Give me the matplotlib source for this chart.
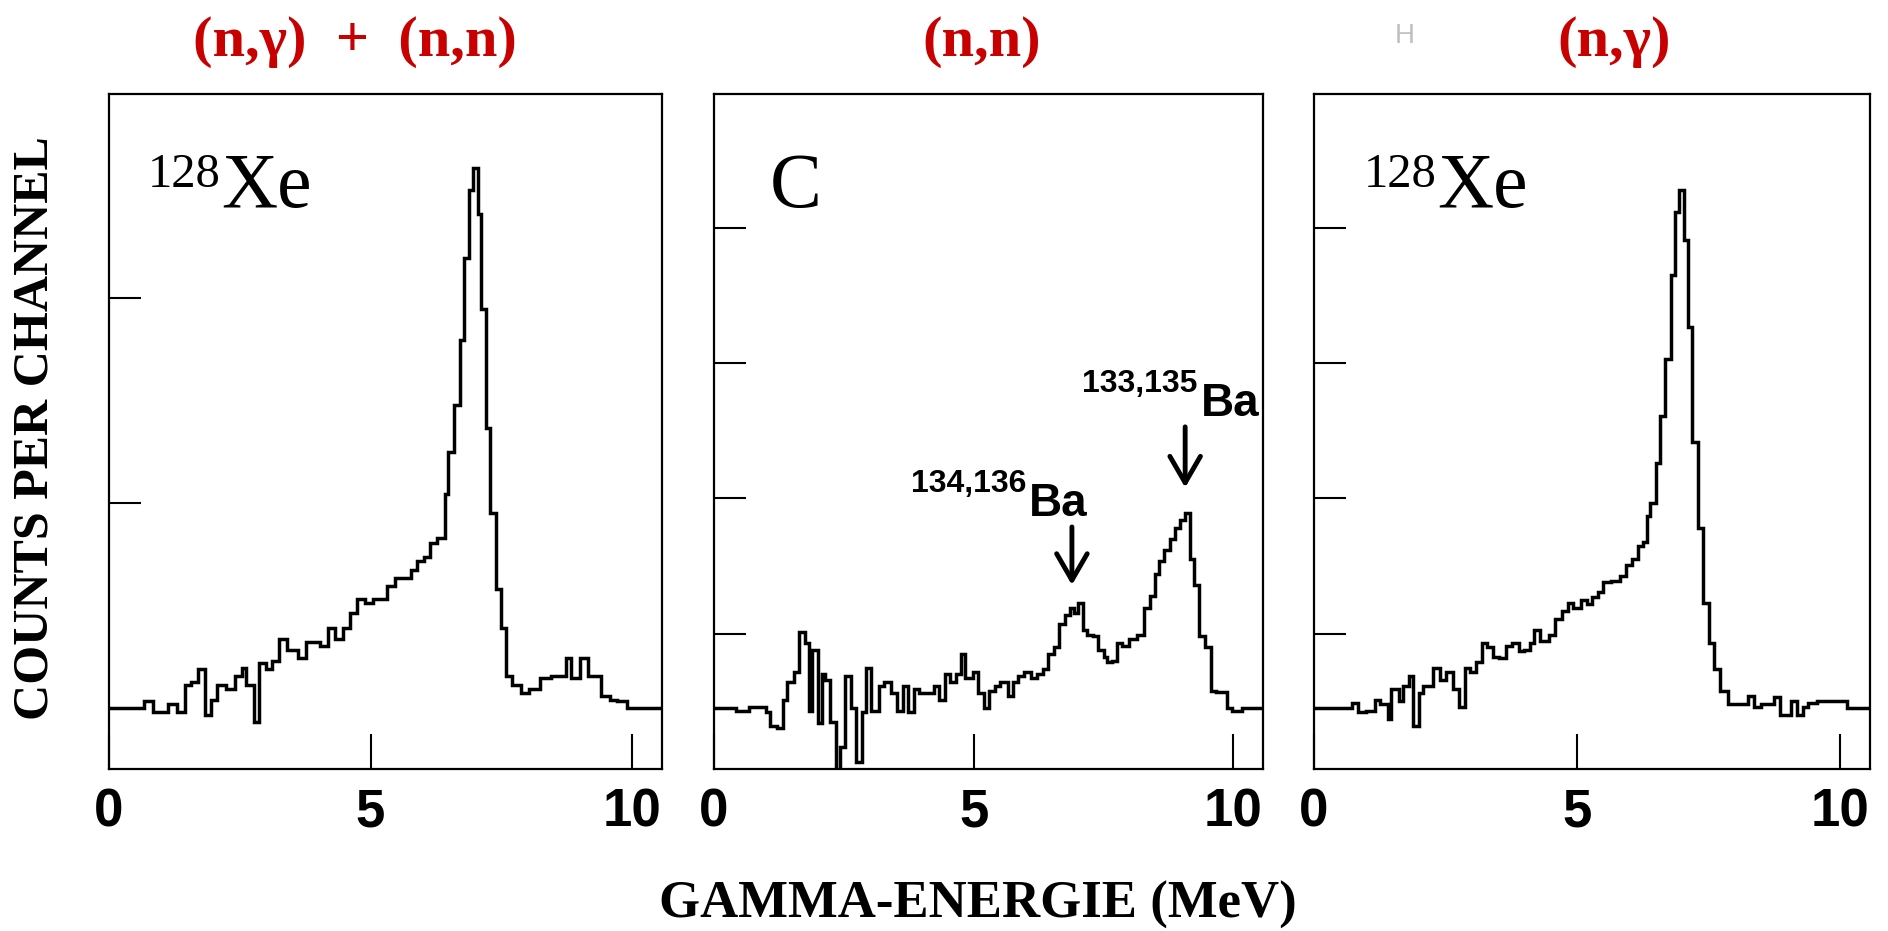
import matplotlib
matplotlib.use("Agg")
import matplotlib.pyplot as plt

# gamma spectra, energy bin edges (MeV) and counts per channel (arb. units)
edges_mix = [0, 0.67, 0.85, 1.13, 1.31, 1.45, 1.56, 1.70, 1.84, 1.95,
             2.06, 2.23, 2.41, 2.54, 2.62, 2.77, 2.87, 3.01, 3.12, 3.26,
             3.40, 3.62, 3.76, 4.04, 4.19, 4.33, 4.47, 4.61, 4.75, 4.90,
             5.04, 5.32, 5.46, 5.61, 5.78, 5.89, 6.03, 6.14, 6.28, 6.42,
             6.49, 6.60, 6.71, 6.78, 6.88, 6.95, 7.05, 7.12, 7.20, 7.29,
             7.39, 7.49, 7.59, 7.70, 7.88, 8.02, 8.23, 8.45, 8.73, 8.84,
             9.01, 9.16, 9.40, 9.58, 9.72, 9.90, 10.15, 10.57]
counts_mix = [45, 50, 42, 48, 42, 62, 64, 74, 40, 51,
              62, 59, 69, 75, 62, 35, 78, 74, 80, 96,
              88, 82, 94, 91, 104, 96, 104, 115, 126, 123,
              126, 135, 141, 141, 147, 154, 157, 167, 171, 203,
              234, 269, 317, 378, 428, 444, 410, 340, 252, 189,
              133, 104, 69, 62, 56, 59, 67, 69, 82, 67,
              82, 69, 54, 51, 50, 45, 45]

edges_c = [0, 0.43, 0.68, 1.0, 1.07, 1.21, 1.32, 1.41, 1.53, 1.64,
           1.75, 1.82, 1.89, 2.0, 2.07, 2.14, 2.24, 2.35, 2.42, 2.53,
           2.63, 2.74, 2.85, 2.92, 3.02, 3.17, 3.27, 3.41, 3.52, 3.63,
           3.73, 3.84, 3.95, 4.23, 4.34, 4.44, 4.55, 4.66, 4.76, 4.84,
           4.98, 5.08, 5.19, 5.30, 5.40, 5.51, 5.65, 5.76, 5.86, 5.97,
           6.11, 6.22, 6.33, 6.43, 6.54, 6.65, 6.75, 6.86, 6.93, 7.0,
           7.11, 7.18, 7.29, 7.39, 7.50, 7.57, 7.67, 7.75, 7.85, 7.99,
           8.14, 8.28, 8.39, 8.49, 8.56, 8.67, 8.78, 8.88, 8.97, 9.06,
           9.17, 9.24, 9.34, 9.45, 9.56, 9.66, 9.87, 9.98, 10.16, 10.57]
counts_c = [45, 43, 46, 42, 32, 30, 51, 64, 72, 101,
            93, 43, 88, 34, 70, 66, 35, -25, 16, 69,
            45, 5, 42, 75, 43, 61, 64, 56, 43, 61,
            42, 59, 56, 61, 51, 70, 64, 70, 85, 67,
            72, 56, 45, 58, 61, 64, 54, 64, 69, 72,
            67, 70, 74, 85, 90, 107, 114, 119, 115, 123,
            103, 99, 98, 88, 83, 79, 80, 93, 91, 96,
            99, 119, 128, 144, 154, 162, 170, 178, 184, 189,
            155, 136, 98, 90, 58, 57, 45, 43, 45]

edges_ng = [0, 0.73, 0.83, 0.98, 1.15, 1.26, 1.40, 1.47, 1.62, 1.69,
            1.80, 1.88, 2.0, 2.08, 2.26, 2.40, 2.51, 2.65, 2.76, 2.87,
            2.97, 3.08, 3.19, 3.29, 3.40, 3.51, 3.65, 3.76, 3.90, 4.0,
            4.11, 4.18, 4.29, 4.47, 4.58, 4.72, 4.83, 4.93, 5.08, 5.18,
            5.29, 5.40, 5.50, 5.65, 5.82, 5.93, 6.04, 6.15, 6.25, 6.32,
            6.39, 6.50, 6.57, 6.68, 6.79, 6.86, 6.93, 7.04, 7.11, 7.18,
            7.29, 7.39, 7.50, 7.61, 7.71, 7.86, 8.25, 8.36, 8.50, 8.75,
            8.86, 9.07, 9.18, 9.29, 9.39, 9.57, 10.14, 10.57]
counts_ng = [45, 49, 42, 43, 51, 48, 37, 59, 50, 61,
             69, 32, 56, 61, 75, 66, 72, 59, 46, 75,
             72, 79, 93, 90, 83, 82, 91, 93, 87, 88,
             93, 103, 95, 99, 111, 117, 123, 119, 125, 122,
             127, 131, 138, 139, 143, 151, 155, 165, 168, 187,
             197, 226, 261, 303, 365, 412, 428, 391, 327, 242,
             178, 123, 93, 74, 58, 48, 54, 46, 48, 53,
             40, 50, 40, 46, 49, 50, 45]

titles = ["(n,\u03b3)  +  (n,n)", "(n,n)", "(n,\u03b3)"]
targets = ["Xe", "C", "Xe"]
masses = ["128", "", "128"]
yticks = [[197, 348], [100, 200, 300, 400], [100, 200, 300, 400]]

# Ba lines in the carbon spectrum: arrows (energy, tail, tip) and labels
ba_arrows = [(6.89, 181, 134), (9.07, 255, 206)]
ba_labels = [("134,136", 6.01, 6.07, 187), ("133,135", 9.31, 9.38, 261)]

red = "#c80000"
serif = "Liberation Serif"
sans = "Liberation Sans"

fig = plt.figure(figsize=(18.88, 9.31), dpi=100)
positions = [[0.0577, 0.174, 0.2929, 0.725],
             [0.3782, 0.174, 0.2908, 0.725],
             [0.696, 0.174, 0.2945, 0.725]]
title_x = [0.188, 0.520, 0.855]
mass_x = [0.070, 0, 0.090]
elem_x = [0.204, 0.102, 0.221]

spectra = [(edges_mix, counts_mix), (edges_c, counts_c), (edges_ng, counts_ng)]

for i, (edges, counts) in enumerate(spectra):
    ax = fig.add_axes(positions[i])
    ax.stairs(counts, edges, color="black", linewidth=2.5, baseline=None)
    ax.set_xlim(0, 10.57)
    ax.set_ylim(0, 499)
    ax.set_xticks([0, 5, 10])
    ax.set_xticklabels(["0", "5", "10"], fontfamily=sans,
                       fontweight="heavy", fontsize=38)
    ax.set_yticks(yticks[i])
    ax.set_yticklabels([])
    ax.tick_params(axis="x", direction="in", length=25, width=1.5, pad=13)
    ax.tick_params(axis="y", direction="in", length=23, width=1.5)
    for sp in ax.spines.values():
        sp.set_linewidth(1.6)

    # target label
    if masses[i]:
        ax.text(mass_x[i], 0.862, masses[i], transform=ax.transAxes,
                fontfamily=serif, fontsize=35, va="baseline", ha="left")
    ax.text(elem_x[i], 0.832, targets[i], transform=ax.transAxes,
            fontfamily=serif, fontsize=56, va="baseline", ha="left")

    fig.text(title_x[i], 0.955, titles[i], color=red, fontfamily=serif,
             fontweight="bold", fontsize=42, ha="center", va="center")

    if i == 1:
        for x, y0, y1 in ba_arrows:
            ax.annotate("", xy=(x, y1), xytext=(x, y0),
                        arrowprops=dict(arrowstyle="->,head_length=1.9,head_width=1.1",
                                        lw=3.5, color="black"))
        for mass, xm, xb, y in ba_labels:
            ax.text(xm, y + 18, mass, fontfamily=sans, fontweight="bold",
                    fontsize=23, ha="right", va="baseline", clip_on=False)
            ax.text(xb, y, "Ba", fontfamily=sans, fontweight="bold",
                    fontsize=33, ha="left", va="baseline", clip_on=False)

fig.text(0.0186, 0.54, "COUNTS PER CHANNEL", rotation=90, fontfamily=serif,
         fontweight="bold", fontsize=36, ha="center", va="center")
fig.text(0.518, 0.028, "GAMMA-ENERGIE (MeV)", fontfamily=serif,
         fontweight="bold", fontsize=38, ha="center", va="center")
fig.text(0.744, 0.961, "H", color="#c0c0c0", fontfamily=sans,
         fontsize=20, ha="center", va="center")

fig.savefig("out.png", dpi=100)
